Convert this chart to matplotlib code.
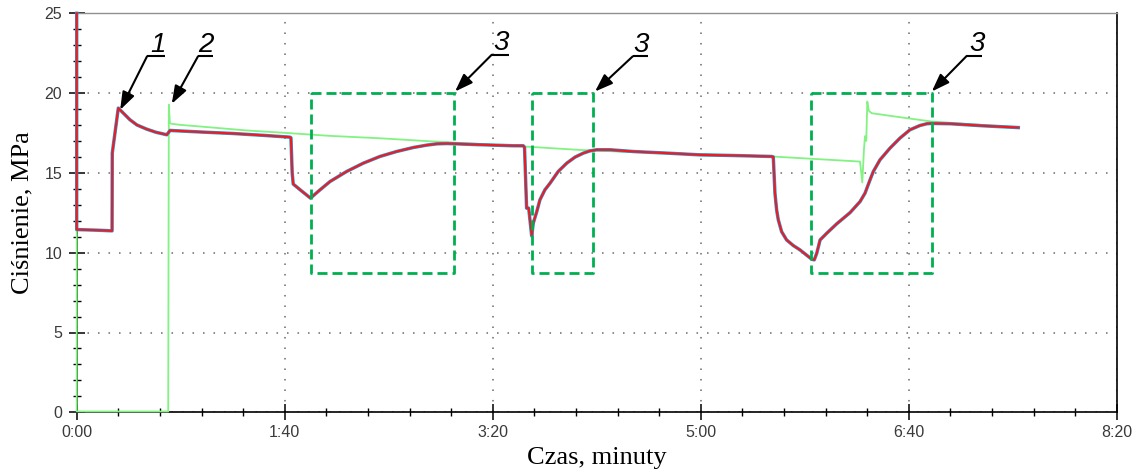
import matplotlib
matplotlib.use("Agg")
import matplotlib.pyplot as plt
from matplotlib.ticker import MultipleLocator, FixedLocator

# --- measured pressure traces (time in seconds, pressure in MPa) ---
red_t = [0, 0, 5, 10, 17.0, 17.1, 18.5, 20.0, 22.0, 25.6, 29.0, 33.7, 38.0, 43.3,
         44.9, 46.3, 60, 75, 90, 102.5, 103.0, 103.6, 104.1, 108.0, 112.4,
         117.0, 121.8, 129.8, 137.8, 145.8, 153.8, 161.8, 168.3, 173.1, 177.9,
         182.7, 190.7, 200.3, 209.9, 214.7, 215.3, 216.3, 217.3, 218.75,
         219.5, 221.2, 222.7, 225.1, 227.6, 231.5, 235.6, 239.6, 243.6, 246.8,
         250.0, 256.4, 267.6, 283.7, 299.7, 315.7, 334.1, 334.9, 335.7, 336.5,
         337.3, 338.9, 341.3, 344.5, 347.7, 353.4, 354.6, 355.8, 357.4, 360.6,
         365.4, 371.8, 376.6, 379.0, 381.4, 383.0, 386.2, 391.0, 395.8, 400.6,
         405.4, 408.7, 411.0, 419.9, 435.9, 452.7]
red_v = [25.0, 11.45, 11.43, 11.41, 11.37, 16.24, 17.6, 19.06, 18.8, 18.33, 18.0,
         17.74, 17.55, 17.39, 17.66, 17.65, 17.56, 17.47, 17.35, 17.24, 17.2,
         15.0, 14.3, 13.88, 13.42, 13.94, 14.46, 15.09, 15.61, 16.03, 16.34,
         16.59, 16.74, 16.82, 16.84, 16.82, 16.78, 16.74, 16.70, 16.70, 16.6,
         12.79, 12.79, 11.05, 11.85, 12.58, 13.31, 13.94, 14.36, 15.09, 15.61,
         15.99, 16.24, 16.38, 16.45, 16.45, 16.34, 16.24, 16.13, 16.09, 16.03,
         16.0, 13.73, 12.68, 12.06, 11.32, 10.8, 10.45, 10.18, 9.59, 9.55, 9.97,
         10.8, 11.22, 11.81, 12.51, 13.2, 13.73, 14.56, 15.09, 15.82, 16.55,
         17.18, 17.7, 17.97, 18.08, 18.1, 18.08, 17.95, 17.84]

green_t = [0, 0, 44.0, 44.3, 44.8, 45.5, 49.7, 60, 81.7, 97.7, 121.8, 145.8, 170,
           195, 219.5, 241.9, 260, 285, 305, 323.7, 334.1, 350, 376.6, 377.7,
           378.5, 379.0, 379.6, 380.1, 380.8, 382.2, 395.8, 411.0, 430, 452.7]
green_v = [16.8, 0.05, 0.05, 19.27, 18.12, 18.08, 18.01, 17.9, 17.66, 17.53, 17.32,
           17.17, 16.98, 16.80, 16.62, 16.44, 16.34, 16.23, 16.15, 16.07, 16.03,
           15.91, 15.71, 14.4, 16.5, 17.3, 17.0, 19.47, 18.9, 18.74, 18.49, 18.22,
           18.05, 17.86]

# --- highlighted regions: (t_start, t_end, p_low, p_high) ---
box_regions = [(112.6, 181.4, 8.75, 20.0),
               (218.75, 248.4, 8.75, 20.0),
               (353.0, 411.4, 8.75, 20.0)]

# --- numbered callouts: label, text x, arrow tail x, underline end x, underline y, arrow head ---
callout_labels = ["1", "2", "3", "3", "3"]
callout_text_t = [38.9, 62.1, 204.2, 271.2, 432.7]
callout_tail_t = [33.8, 58.3, 199.5, 267.3, 427.9]
callout_line_end_t = [42.5, 65.5, 207.8, 274.8, 435.4]
callout_line_v = [22.3, 22.3, 22.4, 22.3, 22.33]
callout_head = [(20.9, 18.95), (45.7, 19.33), (181.9, 20.1), (249.2, 20.1), (411.1, 20.1)]

time_ticks = [0, 100, 200, 300, 400, 500]
time_labels = ["0:00", "1:40", "3:20", "5:00", "6:40", "8:20"]
pressure_ticks = [0, 5, 10, 15, 20, 25]

W, H = 1141, 475
fig = plt.figure(figsize=(W / 100, H / 100), dpi=100)
left, right, top, bottom = 76.7, 1116.7, 13.3, 412.3
ax = fig.add_axes([left / W, 1 - bottom / H, (right - left) / W, (bottom - top) / H])

ax.plot(green_t, green_v, color="#82f282", lw=1.3, zorder=3, clip_on=False)
ax.plot(red_t, red_v, color="#2b9ddc", lw=2.5, zorder=4, clip_on=False)
ax.plot(red_t, red_v, color="#ec1c24", lw=1.6, zorder=5, clip_on=False)

for t0, t1, p0, p1 in box_regions:
    ax.plot([t0, t1, t1, t0, t0], [p1, p1, p0, p0, p1], color="#00b050",
            lw=2.0, dashes=(3.6, 1.8), zorder=6)

for lab, tx, tt, te, lv, head in zip(callout_labels, callout_text_t, callout_tail_t,
                                     callout_line_end_t, callout_line_v, callout_head):
    ax.plot([tt, te], [lv, lv], color="black", lw=1.5, zorder=7,
            solid_capstyle="butt")
    ax.annotate("", xy=head, xytext=(tt, lv),
                arrowprops=dict(arrowstyle="-|>,head_length=0.9,head_width=0.32",
                                mutation_scale=12, color="black", lw=1.5,
                                shrinkA=0, shrinkB=0), zorder=7)
    ax.text(tx, lv + 0.3, lab, fontsize=20, style="italic",
            family="Liberation Sans", ha="center", va="baseline", zorder=7)

ax.set_xlim(0, 500)
ax.set_ylim(0, 25)
ax.xaxis.set_major_locator(FixedLocator(time_ticks))
ax.set_xticklabels(time_labels)
ax.xaxis.set_minor_locator(MultipleLocator(20))
ax.yaxis.set_major_locator(FixedLocator(pressure_ticks))
ax.yaxis.set_minor_locator(MultipleLocator(1))

ax.grid(True, which="major", color="#8a8a8a", lw=1.4, dashes=(0.8, 4.6))
ax.set_axisbelow(True)

ax.tick_params(which="major", direction="inout", length=11, width=1.1,
               color="black", labelsize=11.5, labelcolor="#3a3a3a")
ax.tick_params(which="minor", direction="inout", length=6, width=1.0, color="black")
ax.tick_params(axis="x", which="major", pad=4)
ax.tick_params(axis="y", which="major", pad=5)
for lbl in ax.get_xticklabels() + ax.get_yticklabels():
    lbl.set_family("Liberation Sans")

for side in ("left", "bottom", "right"):
    ax.spines[side].set_color("black")
    ax.spines[side].set_linewidth(1.2)
ax.spines["top"].set_color("#909090")
ax.spines["top"].set_linewidth(1.0)

ax.set_xlabel("Czas, minuty", family="Liberation Serif", fontsize=19, labelpad=5)
ax.set_ylabel("Ciśnienie, MPa", family="Liberation Serif", fontsize=19, labelpad=8)

fig.savefig("out.png", dpi=100)
